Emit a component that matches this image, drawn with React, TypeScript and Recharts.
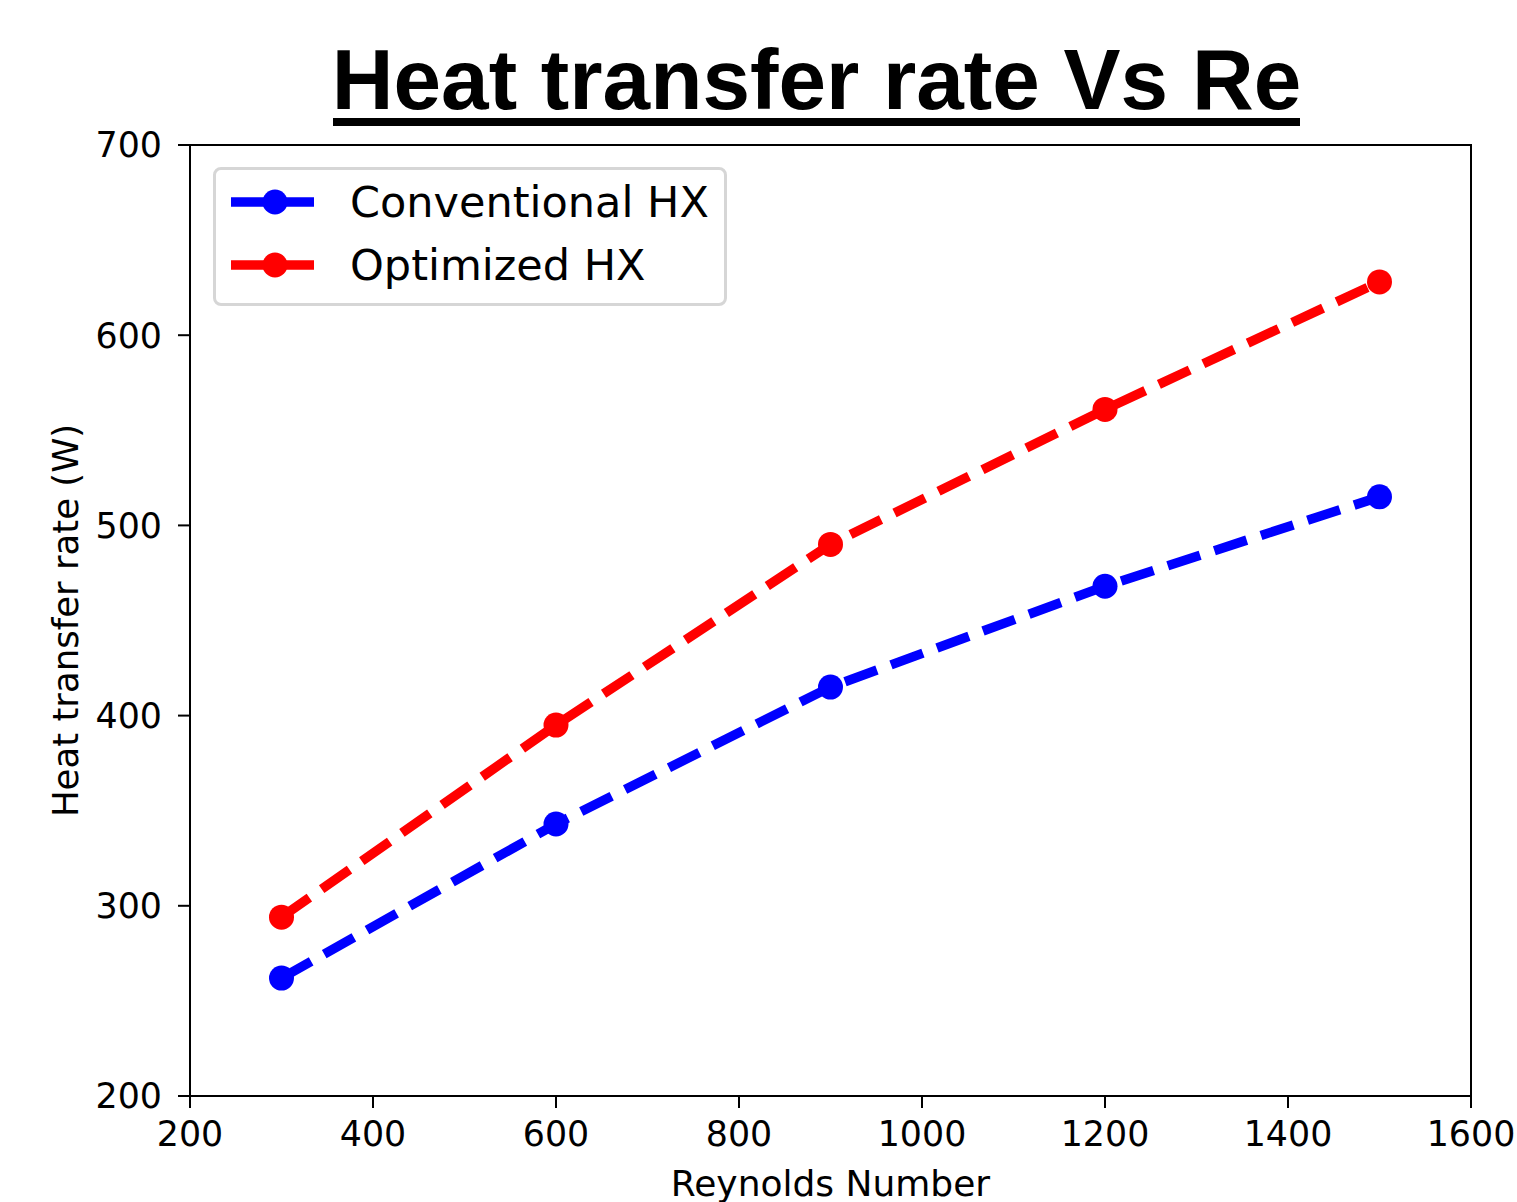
import { LineChart, Line, XAxis, YAxis, ReferenceArea } from "recharts";

// values
const reynolds = [300, 600, 900, 1200, 1500];
const conventional = [262, 343, 415, 468, 515];
const optimized = [294, 395, 490, 561, 628];
const xTicks = [200, 400, 600, 800, 1000, 1200, 1400, 1600];
const yTicks = [200, 300, 400, 500, 600, 700];

const series = [
  { key: "conventional", name: "Conventional HX", color: "#0000ff", values: conventional },
  { key: "optimized", name: "Optimized HX", color: "#ff0000", values: optimized },
];

const data = reynolds.map((re, i) => ({
  re,
  conventional: conventional[i],
  optimized: optimized[i],
}));

const FONT = "'DejaVu Sans', sans-serif";
const DASH = "34 15";

const App = () => {
  return (
    <div style={{ position: "absolute", left: 0, top: 0, width: 1517, height: 1202, background: "#fff" }}>
      {/* title */}
      <div
        style={{
          position: "absolute",
          left: 816.5,
          top: 37,
          transform: "translateX(-50%)",
          fontFamily: "'Liberation Sans', Arial, sans-serif",
          fontWeight: "bold",
          fontSize: 85.5,
          lineHeight: 1,
          whiteSpace: "nowrap",
          color: "#000",
        }}
      >
        Heat transfer rate Vs Re
      </div>
      <div style={{ position: "absolute", left: 333, top: 118, width: 967, height: 8, background: "#000" }} />

      <LineChart
        width={1517}
        height={1202}
        data={data}
        margin={{ top: 145, right: 46, bottom: 0, left: 40 }}
        style={{ position: "absolute", left: 0, top: 0 }}
      >
        <XAxis
          dataKey="re"
          type="number"
          domain={[200, 1600]}
          ticks={xTicks}
          height={106}
          tickSize={12}
          tickMargin={13}
          axisLine={{ stroke: "#000", strokeWidth: 2 }}
          tickLine={{ stroke: "#000", strokeWidth: 2 }}
          tick={{ fill: "#000", fontSize: 34.8, fontFamily: FONT }}
          label={{
            value: "Reynolds Number",
            position: "insideBottom",
            offset: 6,
            fill: "#000",
            fontSize: 36,
            fontFamily: FONT,
          }}
        />
        <YAxis
          type="number"
          domain={[200, 700]}
          ticks={yTicks}
          width={150}
          tickSize={12}
          tickMargin={16}
          axisLine={{ stroke: "#000", strokeWidth: 2 }}
          tickLine={{ stroke: "#000", strokeWidth: 2 }}
          tick={{ fill: "#000", fontSize: 34.8, fontFamily: FONT }}
          label={{
            value: "Heat transfer rate (W)",
            angle: -90,
            position: "insideLeft",
            offset: 25,
            fill: "#000",
            fontSize: 35.5,
            fontFamily: FONT,
            style: { textAnchor: "middle" },
          }}
        />
        <ReferenceArea
          x1={200}
          x2={1600}
          y1={200}
          y2={700}
          fill="none"
          stroke="#000"
          strokeWidth={2}
          ifOverflow="visible"
        />
        {series.map((s) => (
          <Line
            key={s.key}
            dataKey={s.key}
            name={s.name}
            stroke={s.color}
            strokeWidth={9.5}
            strokeDasharray={DASH}
            dot={{ r: 12.5, fill: s.color, stroke: s.color, strokeWidth: 0, strokeDasharray: "0" }}
            activeDot={false}
            isAnimationActive={false}
          />
        ))}
      </LineChart>

      {/* legend */}
      <div
        style={{
          position: "absolute",
          left: 213,
          top: 167,
          width: 514,
          height: 139,
          border: "3px solid #d6d6d6",
          borderRadius: 8,
          background: "rgba(255,255,255,0.8)",
          boxSizing: "border-box",
        }}
      >
        {series.map((s, i) => (
          <div
            key={s.key}
            style={{ position: "absolute", left: 0, top: 5 + i * 63, height: 54, width: "100%" }}
          >
            <svg width={100} height={54} style={{ position: "absolute", left: 12, top: 0 }}>
              <line x1={3} x2={93} y1={27} y2={27} stroke={s.color} strokeWidth={9.5} strokeDasharray="34 15" />
              <circle cx={47} cy={27} r={12.5} fill={s.color} />
            </svg>
            <div
              style={{
                position: "absolute",
                left: 134,
                top: 0,
                lineHeight: "54px",
                fontSize: 43,
                fontFamily: FONT,
                color: "#000",
                whiteSpace: "nowrap",
              }}
            >
              {s.name}
            </div>
          </div>
        ))}
      </div>
    </div>
  );
};

export default App;
